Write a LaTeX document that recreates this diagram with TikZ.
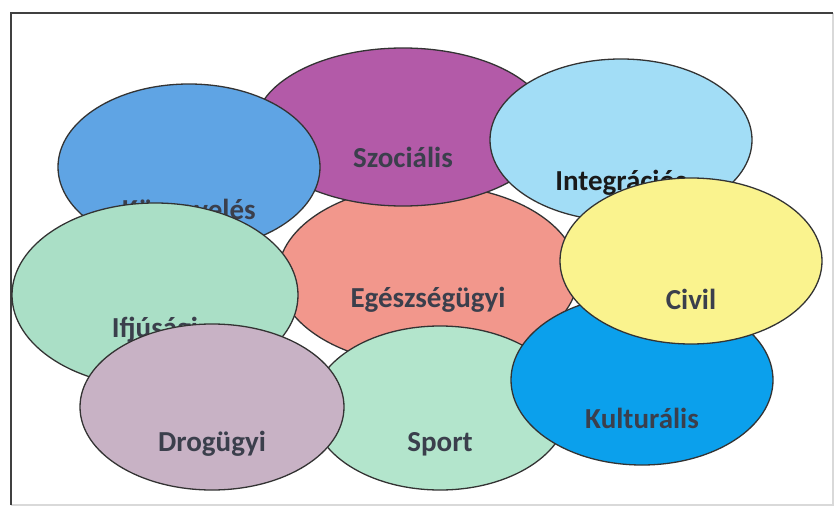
\documentclass[tikz,border=0pt]{standalone}
\usepackage{fontspec}
\setmainfont{Carlito}
\usepackage{xcolor}
\usetikzlibrary{shapes.geometric}

\definecolor{SzocFill}{HTML}{B35AA8}
\definecolor{KozFill}{HTML}{5FA4E4}
\definecolor{IntFill}{HTML}{A2DDF6}
\definecolor{EgFill}{HTML}{F2978C}
\definecolor{CivFill}{HTML}{FAF38E}
\definecolor{IfjFill}{HTML}{AADFC6}
\definecolor{SportFill}{HTML}{B3E5CC}
\definecolor{DrogFill}{HTML}{C8B2C5}
\definecolor{KultFill}{HTML}{0BA0EC}
\definecolor{LabelGray}{HTML}{3B3F4C}

\begin{document}
\begin{tikzpicture}[
x=1pt, y=-1pt,
blob/.style={ellipse, draw=black!80, line width=1.3pt, inner sep=0pt, minimum width=262pt, minimum height=166pt},
txt/.style={font=\fontsize{29}{33}\selectfont\bfseries, text=LabelGray, inner sep=0pt}
]
\useasboundingbox (0,0) rectangle (836,511);
% frame
\draw[black!15, line width=1.2pt] (833,13) -- (833,505) -- (11,505);
\draw[black!75, line width=1.6pt] (11,505) -- (11,13) -- (833,13);

% ellipses, back to front
\node[blob, fill=EgFill, minimum width=300pt, minimum height=180pt, label={[txt, yshift=-25pt]center:Egészségügyi}] (eg) at (428,275) {};
\node[blob, fill=SzocFill, minimum width=296pt, minimum height=158pt, label={[txt, yshift=-30pt]center:Szociális}] (szoc) at (403,127) {};
\node[blob, fill=KozFill, label={[txt, yshift=-42pt]center:Köznevelés}] (koz) at (189,167) {};
\node[blob, fill=IntFill, minimum height=162pt, label={[txt, text=black!90, yshift=-43pt]center:Integrációs}] (integ) at (621,140) {};
\node[blob, fill=IfjFill, minimum width=286pt, minimum height=184pt, label={[txt, yshift=-35pt]center:Ifjúsági}] (ifj) at (155,295) {};
\node[blob, fill=SportFill, minimum width=256pt, minimum height=164pt, label={[txt, yshift=-36pt]center:Sport}] (sport) at (440,408) {};
\node[blob, fill=DrogFill, minimum width=264pt, label={[txt, yshift=-37pt]center:Drogügyi}] (drog) at (212,407) {};
\node[blob, fill=KultFill, minimum height=170pt, label={[txt, yshift=-38pt]center:Kulturális}] (kult) at (642,380) {};
\node[blob, fill=CivFill, label={[txt, yshift=-38pt]center:Civil}] (civ) at (691,261) {};
\end{tikzpicture}
\end{document}
